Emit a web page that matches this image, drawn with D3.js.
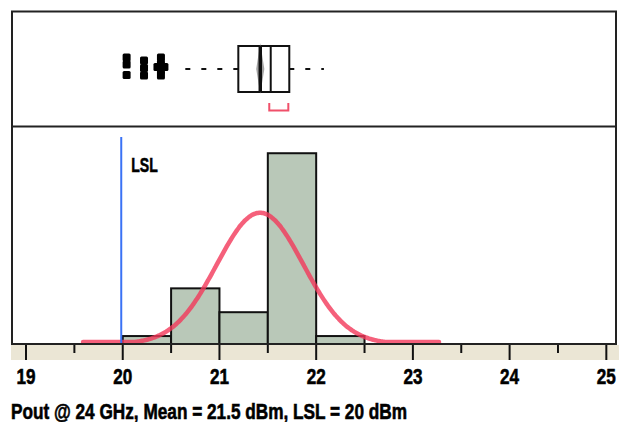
<!DOCTYPE html>
<html><head><meta charset="utf-8">
<script src="https://cdn.jsdelivr.net/npm/d3@7"></script>
<style>
html,body{margin:0;padding:0;background:#fff;}
svg{display:block;}
text{font-family:"Liberation Sans","Arial",sans-serif;font-weight:bold;fill:#000;stroke:#000;stroke-width:0.6px;}
</style></head>
<body>
<script>
// ---- data ----
const binStarts = [20.0, 20.5, 21.0, 21.5, 22.0];
const binWidth = 0.5;
const binCounts = [1, 7, 4, 24, 1];
const xTicks = [19, 20, 21, 22, 23, 24, 25];
const xMinorTicks = [19.5, 20.5, 21.5, 22.5, 23.5, 24.5];
const fitMean = 21.42, fitSD = 0.447, fitN = 37;
const fitRange = [19.59, 23.27];
const lslValue = 20;
const boxQ1 = 21.195, boxMedian = 21.53, boxQ3 = 21.722;
const whiskerLow = 20.644, whiskerHigh = 22.08;
const meanValue = 21.422, meanCIHalf = 0.042;
const shortestHalf = [21.515, 21.712];
const outlierValues = [20.04, 20.04, 20.04, 20.22, 20.22, 20.22, 20.395, 20.395, 20.395, 20.395, 20.359, 20.431];
const outlierJitter = [-0.5, -0.2, 0.26, -0.37, -0.04, 0.28, -0.5, -0.22, 0.04, 0.28, -0.09, -0.09];
const titleText = "Pout @ 24 GHz, Mean = 21.5 dBm, LSL = 20 dBm";

// ---- layout ----
const W = 619, H = 422;
const frameL = 12, frameR = 616, frameT = 11.5, divY = 126.5, frameB = 344;
const svg = d3.select("body").append("svg").attr("width", W).attr("height", H);

const x = d3.scaleLinear().domain([18.855, 25.1]).range([frameL, frameR]);
const y = d3.scaleLinear().domain([0, 27.3]).range([frameB, divY + 0.5]);

svg.append("clipPath").attr("id", "histclip").append("rect")
  .attr("x", frameL).attr("y", divY).attr("width", frameR - frameL).attr("height", frameB - divY);

// ---- histogram ----
const hist = svg.append("g").attr("clip-path", "url(#histclip)");
hist.selectAll("rect.bar").data(binStarts).join("rect").attr("class", "bar")
  .attr("x", d => x(d)).attr("width", d => x(d + binWidth) - x(d))
  .attr("y", (d, i) => y(binCounts[i])).attr("height", (d, i) => y(0) - y(binCounts[i]))
  .attr("fill", "#b9c8b8").attr("stroke", "#111").attr("stroke-width", 2);

const dens = v => fitN * binWidth / (fitSD * Math.sqrt(2 * Math.PI)) * Math.exp(-0.5 * ((v - fitMean) / fitSD) ** 2);
const curvePts = d3.range(fitRange[0], fitRange[1] + 1e-9, 0.01);
hist.append("path").datum(curvePts)
  .attr("d", d3.line().x(d => x(d)).y(d => Math.min(y(dens(d)), frameB - 2)).curve(d3.curveBasis))
  .attr("fill", "none").attr("stroke", "#f2385a").attr("stroke-opacity", 0.8).attr("stroke-width", 4.5)
  .attr("stroke-linecap", "round");

// LSL line
svg.append("line").attr("x1", x(lslValue) - 1.5).attr("x2", x(lslValue) - 1.5)
  .attr("y1", 137).attr("y2", frameB).attr("stroke", "#3a72f5").attr("stroke-width", 2);
svg.append("text").attr("x", x(lslValue) + 8.5).attr("y", 171.5)
  .attr("font-size", 21).attr("textLength", 26.5).attr("lengthAdjust", "spacingAndGlyphs").text("LSL");

// ---- box plot ----
const cy = 69, hh = 23;
const bp = svg.append("g");
bp.append("line").attr("x1", x(boxQ1)).attr("x2", x(whiskerLow)).attr("y1", cy).attr("y2", cy)
  .attr("stroke", "#111").attr("stroke-width", 2.2).attr("stroke-dasharray", "5,11");
bp.append("line").attr("x1", x(boxQ3)).attr("x2", x(whiskerHigh)).attr("y1", cy).attr("y2", cy)
  .attr("stroke", "#111").attr("stroke-width", 2.2).attr("stroke-dasharray", "5,11");
bp.append("rect").attr("x", x(boxQ1)).attr("width", x(boxQ3) - x(boxQ1))
  .attr("y", cy - hh).attr("height", 2 * hh).attr("fill", "#fff").attr("stroke", "#111").attr("stroke-width", 2);
bp.append("path").attr("d", `M${x(meanValue)},${cy - hh - 3}L${x(meanValue + meanCIHalf)},${cy}L${x(meanValue)},${cy + hh + 2}L${x(meanValue - meanCIHalf)},${cy}Z`)
  .attr("fill", "#7d7d7d").attr("fill-opacity", 0.7);
bp.append("line").attr("x1", x(meanValue)).attr("x2", x(meanValue)).attr("y1", cy - hh).attr("y2", cy + hh)
  .attr("stroke", "#111").attr("stroke-width", 3.5);
bp.append("line").attr("x1", x(boxMedian)).attr("x2", x(boxMedian)).attr("y1", cy - hh).attr("y2", cy + hh)
  .attr("stroke", "#111").attr("stroke-width", 2);
bp.append("path").attr("d", `M${x(shortestHalf[0])},${103}V${110.5}H${x(shortestHalf[1])}V${103}`)
  .attr("fill", "none").attr("stroke", "#f0506a").attr("stroke-width", 2);
bp.selectAll("rect.out").data(outlierValues).join("rect").attr("class", "out")
  .attr("x", d => x(d) - 4).attr("y", (d, i) => cy + outlierJitter[i] * hh - 4)
  .attr("width", 8).attr("height", 8).attr("rx", 1.5).attr("fill", "#000");

// ---- frame ----
const fr = svg.append("g").attr("fill", "none").attr("stroke", "#222").attr("stroke-width", 2);
fr.append("rect").attr("x", frameL).attr("y", frameT).attr("width", frameR - frameL).attr("height", frameB - frameT);
fr.append("line").attr("x1", frameL).attr("x2", frameR).attr("y1", divY).attr("y2", divY);

// ---- axis band ----
const bandT = 345, bandB = 360;
svg.append("rect").attr("x", 11).attr("y", bandT).attr("width", W - 11).attr("height", bandB - bandT).attr("fill", "#ebe6d5");
svg.selectAll("line.maj").data(xTicks).join("line").attr("class", "maj")
  .attr("x1", d => x(d)).attr("x2", d => x(d)).attr("y1", bandT).attr("y2", bandB)
  .attr("stroke", "#111").attr("stroke-width", 2);
svg.selectAll("line.min").data(xMinorTicks).join("line").attr("class", "min")
  .attr("x1", d => x(d)).attr("x2", d => x(d)).attr("y1", bandT).attr("y2", 353)
  .attr("stroke", "#111").attr("stroke-width", 2);
svg.selectAll("text.tl").data(xTicks).join("text").attr("class", "tl")
  .attr("x", d => x(d) - 9.5).attr("y", 384).attr("font-size", 22)
  .attr("textLength", 19).attr("lengthAdjust", "spacingAndGlyphs").text(d => d);

// title
svg.append("text").attr("x", 11).attr("y", 418.5).attr("font-size", 22)
  .attr("textLength", 396).attr("lengthAdjust", "spacingAndGlyphs").text(titleText);
</script>
</body></html>
